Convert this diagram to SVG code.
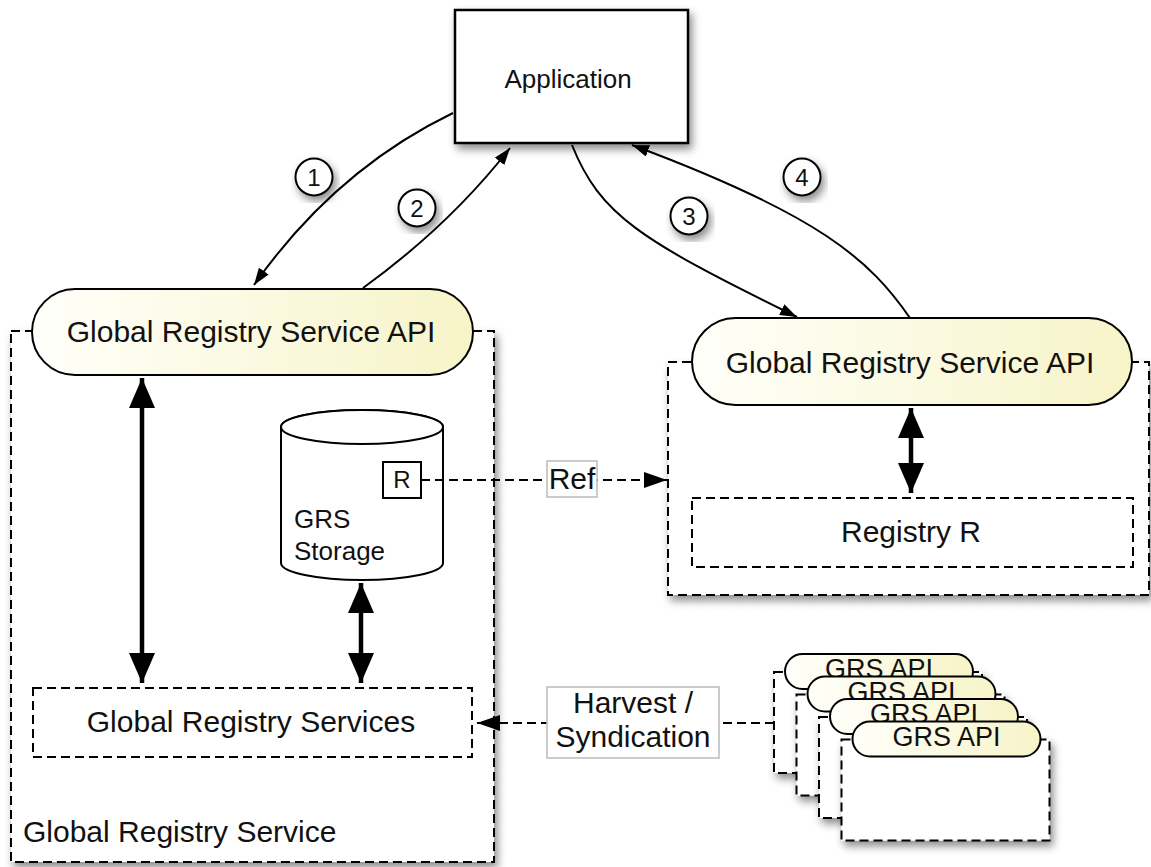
<svg xmlns="http://www.w3.org/2000/svg" width="1151" height="867" viewBox="0 0 1151 867">
  <style>
    text { font-family: "Liberation Sans", Arial, sans-serif; fill: #111; }
    .t30 { font-size: 30px; }
    .box { fill: #fff; stroke: #000; stroke-width: 2.5; }
    .dash { fill: #fff; stroke: #000; stroke-width: 2; stroke-dasharray: 9 5; }
    .dashnf { fill: none; stroke: #000; stroke-width: 2; stroke-dasharray: 9 5; }
    .pill { fill: url(#pillGrad); stroke: #000; stroke-width: 2; }
    .thin { fill: none; stroke: #000; stroke-width: 2; marker-end: url(#thinHead); }
    .thick { fill: none; stroke: #000; stroke-width: 4.5; marker-start: url(#bigHead); marker-end: url(#bigHead); }
    .dline { fill: none; stroke: #000; stroke-width: 2; stroke-dasharray: 9 5; marker-end: url(#dashHead); }
    .lbl { fill: #fff; stroke: #bbb; stroke-width: 1.5; }
    .num { fill: #fff; stroke: #000; stroke-width: 2; }
  </style>
  <defs>
    <linearGradient id="pillGrad" x1="0" y1="0" x2="1" y2="0">
      <stop offset="0" stop-color="#fffffa"/>
      <stop offset="1" stop-color="#f7f4c8"/>
    </linearGradient>
    <filter id="sh" x="-10%" y="-10%" width="130%" height="130%">
      <feDropShadow dx="3" dy="5" stdDeviation="4" flood-color="#000" flood-opacity="0.45"/>
    </filter>
    <clipPath id="cardTextClip" clipPathUnits="userSpaceOnUse">
      <rect x="780" y="640" width="200" height="36.5"/>
    </clipPath>
    <marker id="thinHead" markerUnits="userSpaceOnUse" markerWidth="18" markerHeight="12" refX="17" refY="6" orient="auto">
      <path d="M0,0 L17,6 L0,12 z" fill="#000"/>
    </marker>
    <marker id="bigHead" markerUnits="userSpaceOnUse" markerWidth="31" markerHeight="26" refX="30" refY="13" orient="auto-start-reverse">
      <path d="M0,0 L30,13 L0,26 z" fill="#000"/>
    </marker>
    <marker id="dashHead" markerUnits="userSpaceOnUse" markerWidth="24" markerHeight="16" refX="23" refY="8" orient="auto">
      <path d="M0,0 L23,8 L0,16 z" fill="#000"/>
    </marker>
  </defs>

  <!-- Left container: Global Registry Service -->
  <g id="grs-left">
    <rect class="dash" x="11" y="331" width="483" height="531" filter="url(#sh)"/>
    <text class="t30" x="23" y="842">Global Registry Service</text>
  </g>

  <!-- Right container -->
  <g id="grs-right">
    <rect class="dash" x="668" y="362" width="481" height="233" filter="url(#sh)"/>
  </g>

  <g id="registry-r">
    <rect class="dashnf" x="692" y="498" width="441" height="69"/>
    <text class="t30" x="911" y="542" text-anchor="middle">Registry R</text>
  </g>

  <g id="grs-services">
    <rect class="dashnf" x="33" y="688" width="439" height="69"/>
    <text class="t30" x="251" y="732" text-anchor="middle">Global Registry Services</text>
  </g>

  <g id="grs-storage">
    <path d="M281,427 L281,563 A81,17 0 0 0 443,563 L443,427 A81,17 0 0 0 281,427 Z" fill="#fff" stroke="#000" stroke-width="2"/>
    <ellipse cx="362" cy="427" rx="81" ry="17" fill="#fff" stroke="#000" stroke-width="2"/>
    <text x="294" y="528" font-size="26">GRS</text>
    <text x="294" y="560" font-size="26">Storage</text>
  </g>

  <g id="r-ref">
    <rect x="383" y="462" width="38" height="36" fill="#fff" stroke="#000" stroke-width="2"/>
    <text x="402" y="488" font-size="24" text-anchor="middle">R</text>
  </g>

  <g id="app">
    <rect class="box" x="455" y="10" width="233" height="133" filter="url(#sh)"/>
    <text x="568" y="88" font-size="26" text-anchor="middle">Application</text>
  </g>

  <g id="api-left">
    <rect class="pill" x="32" y="289" width="441" height="86" rx="43"/>
    <text class="t30" x="251" y="342" text-anchor="middle">Global Registry Service API</text>
  </g>

  <g id="api-right">
    <rect class="pill" x="692" y="318" width="440" height="87" rx="43.5"/>
    <text class="t30" x="910" y="373" text-anchor="middle">Global Registry Service API</text>
  </g>

  <!-- Stack of GRS API cards -->
  <g id="grs-api-1" transform="translate(0,0)">
    <rect class="dash" x="774" y="672" width="208" height="101" filter="url(#sh)"/>
    <rect class="pill" x="785" y="654" width="188" height="35" rx="17.5"/>
    <text x="879" y="678" font-size="27" text-anchor="middle" clip-path="url(#cardTextClip)">GRS API</text>
  </g>
  <g id="grs-api-2" transform="translate(22.5,22.5)">
    <rect class="dash" x="774" y="672" width="208" height="101" filter="url(#sh)"/>
    <rect class="pill" x="785" y="654" width="188" height="35" rx="17.5"/>
    <text x="879" y="678" font-size="27" text-anchor="middle" clip-path="url(#cardTextClip)">GRS API</text>
  </g>
  <g id="grs-api-3" transform="translate(45,45)">
    <rect class="dash" x="774" y="672" width="208" height="101" filter="url(#sh)"/>
    <rect class="pill" x="785" y="654" width="188" height="35" rx="17.5"/>
    <text x="879" y="678" font-size="27" text-anchor="middle" clip-path="url(#cardTextClip)">GRS API</text>
  </g>
  <g id="grs-api-4" transform="translate(67.5,67.5)">
    <rect class="dash" x="774" y="672" width="208" height="101" filter="url(#sh)"/>
    <rect class="pill" x="785" y="654" width="188" height="35" rx="17.5"/>
    <text x="879" y="678" font-size="27" text-anchor="middle">GRS API</text>
  </g>

  <!-- Connectors -->
  <g id="connectors">
    <path class="thin" d="M453,113 Q335,170 254,285"/>
    <path class="thin" d="M363,288 Q450,225 510,148"/>
    <path class="thin" d="M572,145 C600,215 640,240 797,317"/>
    <path class="thin" d="M910,318 C870,260 820,215 632,145"/>

    <line class="thick" x1="142" y1="378" x2="142" y2="683"/>
    <line class="thick" x1="361" y1="583" x2="361" y2="683"/>
    <line class="thick" x1="911" y1="408" x2="911" y2="493"/>

    <path class="dline" d="M421,480 L667,480"/>
    <path class="dline" d="M774,723 L477,723"/>

    <g id="label-ref">
      <rect class="lbl" x="547" y="461" width="50" height="36"/>
      <text class="t30" x="572" y="489" text-anchor="middle">Ref</text>
    </g>
    <g id="label-harvest">
      <rect class="lbl" x="547" y="687" width="172" height="71"/>
      <text class="t30" x="633" y="713" text-anchor="middle">Harvest /</text>
      <text class="t30" x="633" y="747" text-anchor="middle">Syndication</text>
    </g>

    <g id="step-1">
      <circle class="num" cx="314" cy="177" r="18.5" filter="url(#sh)"/>
      <text x="314" y="186" font-size="24" text-anchor="middle">1</text>
    </g>
    <g id="step-2">
      <circle class="num" cx="417" cy="208" r="18.5" filter="url(#sh)"/>
      <text x="417" y="217" font-size="24" text-anchor="middle">2</text>
    </g>
    <g id="step-3">
      <circle class="num" cx="689" cy="216" r="18.5" filter="url(#sh)"/>
      <text x="689" y="225" font-size="24" text-anchor="middle">3</text>
    </g>
    <g id="step-4">
      <circle class="num" cx="802" cy="177" r="18.5" filter="url(#sh)"/>
      <text x="802" y="186" font-size="24" text-anchor="middle">4</text>
    </g>
  </g>
</svg>
